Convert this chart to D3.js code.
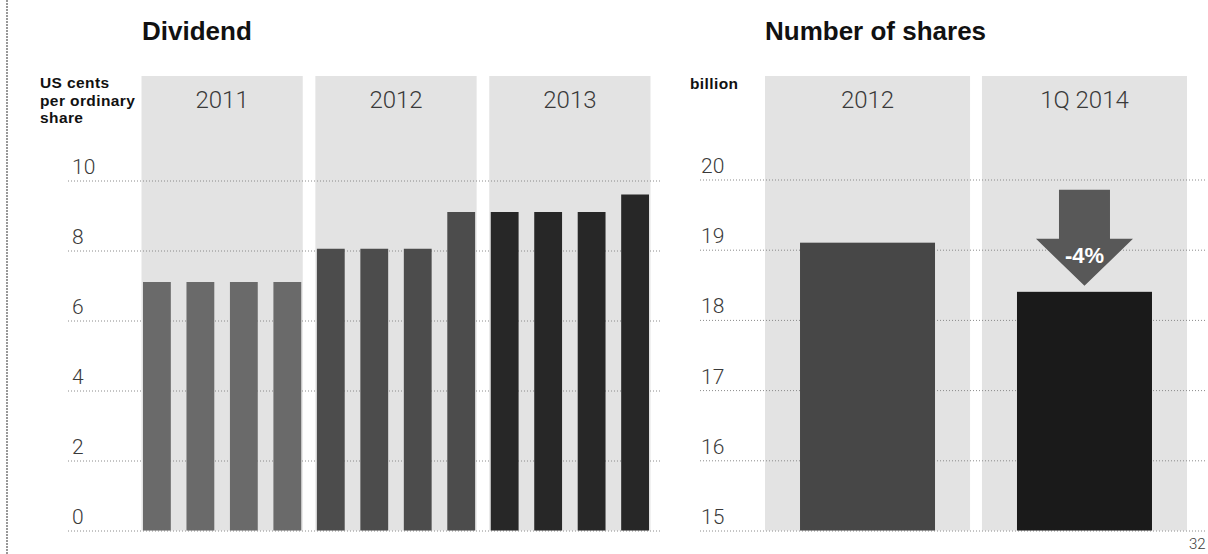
<!DOCTYPE html>
<html>
<head>
<meta charset="utf-8">
<script src="https://cdn.jsdelivr.net/npm/d3@7"></script>
<style>
  html, body { margin: 0; padding: 0; background: #ffffff; }
  svg { display: block; }
  .bold { font-family: "Liberation Sans", Arial, Helvetica, sans-serif; font-weight: bold; fill: #111; }
  .light { font-family: Roboto, "Open Sans", "Liberation Sans", sans-serif; font-weight: 300; fill: #3a3a3a; }
</style>
</head>
<body>
<svg id="chart" width="1208" height="554"></svg>
<script>
// ---------- data ----------
const quarters = ["1Q 2011","2Q 2011","3Q 2011","4Q 2011","1Q 2012","2Q 2012","3Q 2012","4Q 2012","1Q 2013","2Q 2013","3Q 2013","4Q 2013"];
const quarterYears = ["2011","2011","2011","2011","2012","2012","2012","2012","2013","2013","2013","2013"];
const dividends = [7.1, 7.1, 7.1, 7.1, 8.05, 8.05, 8.05, 9.1, 9.1, 9.1, 9.1, 9.6];
const dividendYears = ["2011","2012","2013"];
const dividendTicks = [0, 2, 4, 6, 8, 10];

const shareCategories = ["2012","1Q 2014"];
const shareValues = [19.1, 18.4];
const shareTicks = [15, 16, 17, 18, 19, 20];
const changeLabel = "-4%";

// ---------- styles ----------
const panelFill = "#e3e3e3";
const yearColor = {"2011": "#6a6a6a", "2012": "#4c4c4c", "2013": "#272727"};
const shareColors = ["#474747", "#1a1a1a"];
const arrowFill = "#585858";

const svg = d3.select("#chart");

// left border dotted line
svg.append("line").attr("x1", 7).attr("x2", 7).attr("y1", 0).attr("y2", 554)
  .attr("stroke", "#555").attr("stroke-width", 1.2).attr("stroke-dasharray", "2,1");

// ---------- Dividend chart ----------
const xL = d3.scaleBand().domain(quarters).range([143, 649]).paddingInner(0.36).paddingOuter(0);
const yL = d3.scaleLinear().domain([0, 10]).range([530.5, 180.5]);

const gL = svg.append("g");

// panels per year
dividendYears.forEach(yr => {
  const qs = quarters.filter((q, i) => quarterYears[i] === yr);
  const x0 = xL(qs[0]) - 1.5;
  const x1 = xL(qs[qs.length - 1]) + xL.bandwidth() + 1.5;
  gL.append("rect").attr("x", x0).attr("y", 76).attr("width", x1 - x0).attr("height", yL(0) - 76)
    .attr("fill", panelFill);
  gL.append("text").attr("class", "light").attr("x", (x0 + x1) / 2).attr("y", 108)
    .attr("text-anchor", "middle").attr("font-size", 24).attr("fill", "#444").text(yr);
});

// gridlines + tick labels
const axisL = d3.axisLeft(yL).tickValues(dividendTicks).tickSize(0).tickFormat(d3.format("d"));
const axL = gL.append("g").call(axisL);
axL.select(".domain").remove();
axL.selectAll(".tick line").remove();
axL.selectAll(".tick").each(function(d) {
  const t = d3.select(this);
  t.append("line").attr("x1", 68).attr("x2", 660).attr("y1", 0).attr("y2", 0)
    .attr("stroke", "#8a8a8a").attr("stroke-width", 1).attr("stroke-dasharray", "1,2");
  t.select("text").attr("class", "light").attr("x", 72).attr("dy", "-7").attr("y", 0)
    .attr("text-anchor", "start").attr("font-size", 21).attr("fill", "#3a3a3a");
});

// bars
gL.selectAll("rect.bar").data(dividends).join("rect").attr("class", "bar")
  .attr("x", (d, i) => xL(quarters[i]))
  .attr("width", xL.bandwidth())
  .attr("y", d => yL(d))
  .attr("height", d => yL(0) - yL(d))
  .attr("fill", (d, i) => yearColor[quarterYears[i]]);

// titles
svg.append("text").attr("class", "bold").attr("x", 142).attr("y", 40).attr("font-size", 26).text("Dividend");
const unitL = svg.append("text").attr("class", "bold").attr("x", 40).attr("y", 88).attr("font-size", 15.5).attr("letter-spacing", 0.4);
["US cents", "per ordinary", "share"].forEach((s, i) => {
  unitL.append("tspan").attr("x", 40).attr("dy", i === 0 ? 0 : 17.5).text(s);
});

// ---------- Number of shares chart ----------
const xR = d3.scaleBand().domain(shareCategories).range([765, 1187]).paddingInner(0.055).paddingOuter(0);
const yR = d3.scaleLinear().domain([15, 20]).range([530.5, 179.5]);
const gR = svg.append("g");
const barW = 135;

shareCategories.forEach(c => {
  gR.append("rect").attr("x", xR(c)).attr("y", 76).attr("width", xR.bandwidth()).attr("height", yR(15) - 76)
    .attr("fill", panelFill);
  gR.append("text").attr("class", "light").attr("x", xR(c) + xR.bandwidth() / 2).attr("y", 108)
    .attr("text-anchor", "middle").attr("font-size", 24).attr("fill", "#444").text(c);
});

const axisR = d3.axisLeft(yR).tickValues(shareTicks).tickSize(0).tickFormat(d3.format("d"));
const axR = gR.append("g").call(axisR);
axR.select(".domain").remove();
axR.selectAll(".tick line").remove();
axR.selectAll(".tick").each(function(d) {
  const t = d3.select(this);
  t.append("line").attr("x1", 700).attr("x2", 1205).attr("y1", 0).attr("y2", 0)
    .attr("stroke", "#8a8a8a").attr("stroke-width", 1).attr("stroke-dasharray", "1,2");
  t.select("text").attr("class", "light").attr("x", 701).attr("dy", "-7").attr("y", 0)
    .attr("text-anchor", "start").attr("font-size", 21).attr("fill", "#3a3a3a");
});

gR.selectAll("rect.bar").data(shareValues).join("rect").attr("class", "bar")
  .attr("x", (d, i) => xR(shareCategories[i]) + (xR.bandwidth() - barW) / 2)
  .attr("width", barW)
  .attr("y", d => yR(d))
  .attr("height", d => yR(15) - yR(d))
  .attr("fill", (d, i) => shareColors[i]);

// arrow annotation
const ax = xR(shareCategories[1]) + xR.bandwidth() / 2;
const tipY = yR(shareValues[1]) - 6;
const headY = tipY - 47;
const topY = tipY - 96;
const arrowPath = d3.path();
arrowPath.moveTo(ax - 25.5, topY);
arrowPath.lineTo(ax + 25.5, topY);
arrowPath.lineTo(ax + 25.5, headY);
arrowPath.lineTo(ax + 48.5, headY);
arrowPath.lineTo(ax, tipY);
arrowPath.lineTo(ax - 48.5, headY);
arrowPath.lineTo(ax - 25.5, headY);
arrowPath.closePath();
gR.append("path").attr("d", arrowPath.toString()).attr("fill", arrowFill);
gR.append("text").attr("class", "bold").attr("x", ax).attr("y", headY + 24)
  .attr("text-anchor", "middle").attr("font-size", 22).style("fill", "#ffffff").text(changeLabel);

svg.append("text").attr("class", "bold").attr("x", 765).attr("y", 40).attr("font-size", 26).text("Number of shares");
svg.append("text").attr("class", "bold").attr("x", 690).attr("y", 89).attr("font-size", 15.5).attr("letter-spacing", 0.4).text("billion");

// page number
svg.append("text").attr("class", "light").attr("x", 1189).attr("y", 549).attr("font-size", 15).attr("fill", "#333").text("32");
</script>
</body>
</html>
